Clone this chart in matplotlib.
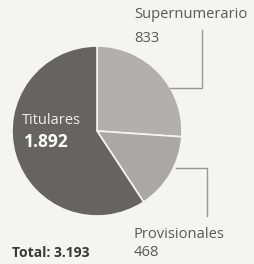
import matplotlib.pyplot as plt

# Data
labels = ["Supernumerario", "Provisionales", "Titulares"]
values = [833, 468, 1892]
value_text = ["833", "468", "1.892"]
total_text = "Total: 3.193"
colors = ["#b2b0ae", "#aaa8a6", "#666462"]

bg = "#f4f4f2"
txt = "#5a5856"
line_c = "#9a9896"

plt.rcParams['font.family'] = ['Open Sans', 'DejaVu Sans']

fig = plt.figure(figsize=(2.55, 2.64), dpi=100)
fig.patch.set_facecolor(bg)

# pie axes (center ~ (97,131), radius ~85 px)
ax = fig.add_axes([12 / 255, (264 - 216) / 264, 170 / 255, 170 / 264])
ax.pie(values, colors=colors, startangle=90, counterclock=False,
       wedgeprops=dict(edgecolor='#f4f4f2', linewidth=1.2))
ax.set_xlim(-1, 1)
ax.set_ylim(-1, 1)
ax.set_aspect('equal')
ax.axis('off')

# overlay axes in pixel coords for text and leader lines
ov = fig.add_axes([0, 0, 1, 1], zorder=10)
ov.set_xlim(0, 255)
ov.set_ylim(264, 0)
ov.patch.set_alpha(0)
ov.axis('off')

# leader lines
ov.plot([170, 202, 202], [88, 88, 30], color=line_c, lw=1)
ov.plot([176, 207, 207], [168, 168, 216], color=line_c, lw=1)

# labels
ov.text(134, 14, labels[0], color=txt, fontsize=10.6, va='center', ha='left')
ov.text(134, 38, value_text[0], color=txt, fontsize=10.6, va='center', ha='left')
ov.text(134, 234, labels[1], color=txt, fontsize=10.6, va='center', ha='left')
ov.text(134, 253, value_text[1], color=txt, fontsize=10.6, va='center', ha='left')
ov.text(22, 120, labels[2], color='#eeeeee', fontsize=10.5, va='center', ha='left')
ov.text(24, 142, value_text[2], color='white', fontsize=12.5, fontweight='bold',
        va='center', ha='left')
ov.text(12, 253, total_text, color='#3a3836', fontsize=10, fontweight='bold',
        va='center', ha='left')

plt.savefig("out.png", dpi=100, facecolor=bg)
